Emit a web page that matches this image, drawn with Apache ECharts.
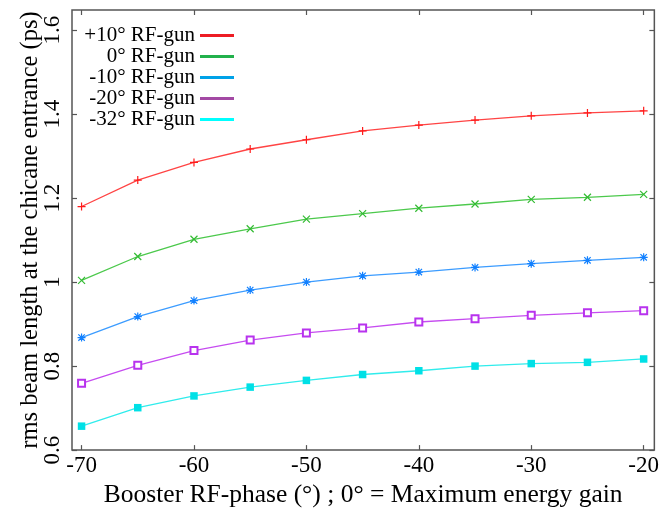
<!DOCTYPE html>
<html>
<head>
<meta charset="utf-8">
<script src="https://cdn.jsdelivr.net/npm/echarts@6/dist/echarts.min.js"></script>
<style>html,body{margin:0;padding:0;background:#fff;}#c{width:662px;height:513px;}</style>
</head>
<body>
<div id="c"></div>
<script>
const phases = [-70, -65, -60, -55, -50, -45, -40, -35, -30, -25, -20];
const seriesNames = ['+10° RF-gun', '0° RF-gun', '-10° RF-gun', '-20° RF-gun', '-32° RF-gun'];
const gunP10 = [1.180, 1.243, 1.285, 1.317, 1.339, 1.360, 1.374, 1.386, 1.396, 1.403, 1.408];
const gun0   = [1.004, 1.061, 1.102, 1.127, 1.150, 1.163, 1.176, 1.186, 1.197, 1.202, 1.209];
const gunM10 = [0.868, 0.918, 0.956, 0.981, 1.000, 1.015, 1.024, 1.035, 1.044, 1.052, 1.059];
const gunM20 = [0.759, 0.802, 0.837, 0.862, 0.879, 0.891, 0.905, 0.913, 0.921, 0.927, 0.932];
const gunM32 = [0.657, 0.701, 0.729, 0.750, 0.766, 0.780, 0.789, 0.800, 0.806, 0.809, 0.817];
const xTicks = [-70, -60, -50, -40, -30, -20];
const yTicks = [0.6, 0.8, 1.0, 1.2, 1.4, 1.6];

const allData = [gunP10, gun0, gunM10, gunM20, gunM32];
const lineColors = ['#ff4444', '#4cc94c', '#3c9cff', '#c64cf0', '#30ecec'];
const markColors = ['#ff1a1a', '#33bb33', '#1180ff', '#b833ee', '#00e0e6'];
const legendColors = ['#ed1c24', '#22b14c', '#00a2e8', '#a349a4', '#00ffff'];
const symbols = [
  'path://M0,5 L10,5 M5,0 L5,10',
  'path://M0,0 L10,10 M0,10 L10,0',
  'path://M0,5 L10,5 M5,0 L5,10 M1,1 L9,9 M1,9 L9,1',
  'emptyRect',
  'rect'
];
const symSizes = [8, 7, 8, 7, 7.5];
const font = 'Liberation Serif';

const chart = echarts.init(document.getElementById('c'), null, {renderer: 'canvas'});
const series = allData.map((d, i) => ({
  name: seriesNames[i],
  type: 'line',
  xAxisIndex: 0,
  yAxisIndex: 0,
  data: phases.map((x, j) => [x, d[j]]),
  symbol: symbols[i],
  symbolSize: symSizes[i],
  showAllSymbol: true,
  lineStyle: {color: lineColors[i], width: 1.3},
  itemStyle: {
    color: markColors[i],
    borderColor: markColors[i],
    borderWidth: (i === 4) ? 0 : 1.2
  },
  emphasis: {disabled: true},
  animation: false,
  z: 3
}));

const tickStyle = {show: true, inside: true, length: 5, lineStyle: {color: '#555', width: 1.2}};

chart.setOption({
  animation: false,
  backgroundColor: '#fff',
  grid: {left: 72, right: 3, top: 10, bottom: 59, show: true, borderColor: '#555', borderWidth: 1.5, backgroundColor: 'transparent'},
  legend: {
    orient: 'vertical',
    left: 70,
    top: 20,
    align: 'right',
    icon: 'rect',
    itemWidth: 34,
    itemHeight: 3,
    itemGap: 0,
    selectedMode: false,
    data: seriesNames.map((n, i) => ({name: n, itemStyle: {color: legendColors[i], borderWidth: 0}, lineStyle: {color: legendColors[i]}})),
    formatter: '{a|{name}}',
    textStyle: {
      fontFamily: font,
      fontSize: 21,
      color: '#000',
      rich: {a: {width: 120, align: 'right', fontFamily: font, fontSize: 21, lineHeight: 20, color: '#000'}}
    }
  },
  xAxis: [{
    type: 'value',
    min: -70.85,
    max: -19.05,
    name: 'Booster RF-phase (°) ; 0° = Maximum energy gain',
    nameLocation: 'middle',
    nameGap: 29,
    nameTextStyle: {fontFamily: font, fontSize: 25.5, color: '#000'},
    axisLine: {show: false},
    axisTick: Object.assign({customValues: xTicks}, tickStyle),
    axisLabel: {customValues: xTicks, fontFamily: font, fontSize: 23, color: '#000', margin: 4, formatter: v => String(v)},
    splitLine: {show: false}
  }, {
    type: 'value',
    position: 'top',
    min: -70.85,
    max: -19.05,
    axisLine: {show: false},
    axisTick: Object.assign({customValues: xTicks}, tickStyle),
    axisLabel: {show: false},
    splitLine: {show: false}
  }],
  yAxis: [{
    type: 'value',
    min: 0.6,
    max: 1.648,
    name: 'rms beam length at the chicane entrance (ps)',
    nameLocation: 'middle',
    nameGap: 29,
    nameMoveOverlap: false,
    nameTextStyle: {fontFamily: font, fontSize: 24.5, color: '#000'},
    axisLine: {show: false},
    axisTick: Object.assign({customValues: yTicks}, tickStyle),
    axisLabel: {customValues: yTicks, rotate: 90, fontFamily: font, fontSize: 23, color: '#000', margin: 8,
      formatter: v => String(Math.round(v * 10) / 10)},
    splitLine: {show: false}
  }, {
    type: 'value',
    position: 'right',
    min: 0.6,
    max: 1.648,
    axisLine: {show: false},
    axisTick: Object.assign({customValues: yTicks}, tickStyle),
    axisLabel: {show: false},
    splitLine: {show: false}
  }],
  series: series
});
</script>
</body>
</html>
